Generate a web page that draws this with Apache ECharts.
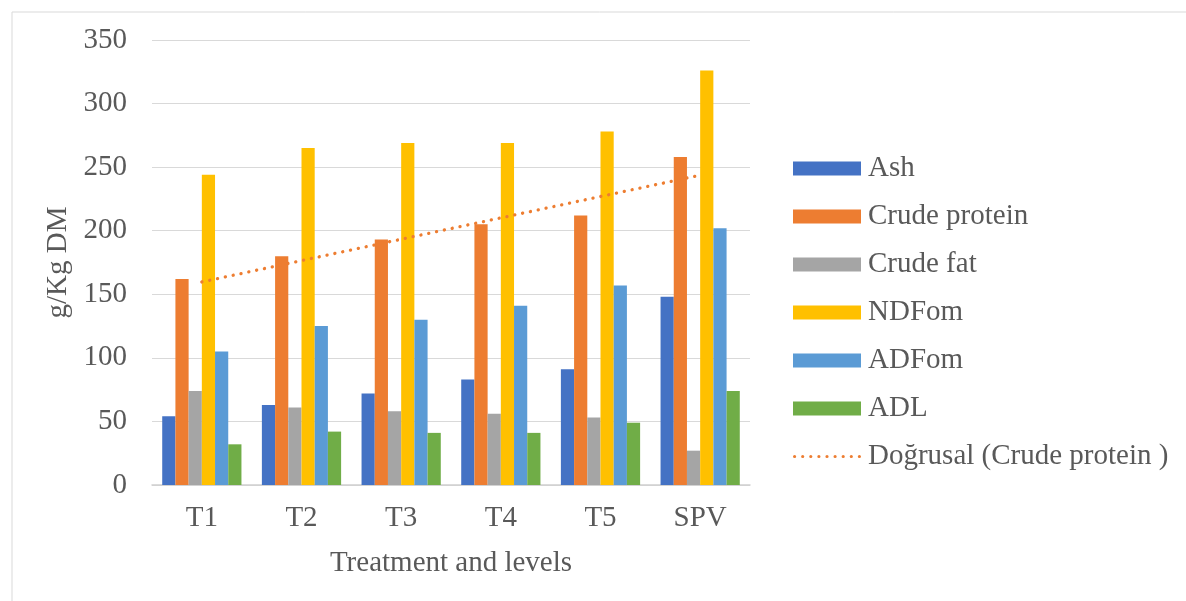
<!DOCTYPE html>
<html>
<head>
<meta charset="utf-8">
<script src="https://cdn.jsdelivr.net/npm/echarts@6/dist/echarts.min.js"></script>
<style>
html,body{margin:0;padding:0;background:#fff;}
#chart{width:1186px;height:601px;}
</style>
</head>
<body>
<div id="chart"></div>
<script>
const categories = ['T1', 'T2', 'T3', 'T4', 'T5', 'SPV'];
const ash = [54, 63, 72, 83, 91, 148];
const crudeProtein = [162, 180, 193, 205, 212, 258];
const crudeFat = [74, 61, 58, 56, 53, 27];
const ndfom = [244, 265, 269, 269, 278, 326];
const adfom = [105, 125, 130, 141, 157, 202];
const adl = [32, 42, 41, 41, 49, 74];
const trendCrudeProtein = [159.7, 176.5, 193.3, 210.1, 226.9, 243.7];
const yTicks = [0, 50, 100, 150, 200, 250, 300, 350];

const FONT = '"Liberation Serif", "Times New Roman", serif';
const TXT = '#595959';

// dotted-line legend icon (9 round dots)
let dotPath = 'path://';
for (let i = 0; i < 9; i++) {
  const cx = 1.6 + i * 8.1;
  dotPath += 'M' + (cx - 1.6) + ' 1.6a1.6 1.6 0 1 0 3.2 0a1.6 1.6 0 1 0 -3.2 0z';
}

function bar(name, data, color) {
  return {
    name: name, type: 'bar', data: data,
    barGap: '0%', barCategoryGap: '20.5%',
    itemStyle: { color: color },
    emphasis: { disabled: true }
  };
}

const chart = echarts.init(document.getElementById('chart'), null, { renderer: 'canvas' });
chart.setOption({
  animation: false,
  backgroundColor: '#fff',
  graphic: [{
    type: 'rect', left: 9.5, top: 9.5, silent: true,
    shape: { x: 0, y: 0, width: 1190, height: 600 },
    style: { fill: 'none', stroke: '#d9d9d9', lineWidth: 1 }
  }],
  grid: { left: 152, right: 436, top: 40, bottom: 116, containLabel: false },
  legend: {
    orient: 'vertical', left: 793, top: 154, padding: 0,
    itemWidth: 68, itemHeight: 14, itemGap: 19,
    symbolKeepAspect: true,
    textStyle: { fontFamily: FONT, fontSize: 29, color: TXT, padding: [0, 0, 0, 2] },
    data: [
      { name: 'Ash', icon: 'rect' },
      { name: 'Crude protein', icon: 'rect' },
      { name: 'Crude fat', icon: 'rect' },
      { name: 'NDFom', icon: 'rect' },
      { name: 'ADFom', icon: 'rect' },
      { name: 'ADL', icon: 'rect' },
      { name: 'Doğrusal (Crude protein )', icon: dotPath }
    ]
  },
  xAxis: {
    type: 'category', data: categories,
    axisLine: { show: true, lineStyle: { color: '#d0d0d0', width: 1.5 } },
    axisTick: { show: false },
    axisLabel: { fontFamily: FONT, fontSize: 29, color: TXT, margin: 19 },
    name: 'Treatment and levels', nameLocation: 'middle', nameGap: 64,
    nameTextStyle: { fontFamily: FONT, fontSize: 29, color: TXT }
  },
  yAxis: {
    type: 'value', min: yTicks[0], max: yTicks[yTicks.length - 1], interval: 50,
    axisLine: { show: false }, axisTick: { show: false },
    splitLine: { lineStyle: { color: '#d9d9d9', width: 1 } },
    axisLabel: { fontFamily: FONT, fontSize: 29, color: TXT, margin: 25 },
    name: 'g/Kg DM', nameLocation: 'middle', nameGap: 76, nameRotate: 90,
    nameTextStyle: { fontFamily: FONT, fontSize: 29, color: TXT }
  },
  series: [
    bar('Ash', ash, '#4472C4'),
    bar('Crude protein', crudeProtein, '#ED7D31'),
    bar('Crude fat', crudeFat, '#A5A5A5'),
    bar('NDFom', ndfom, '#FFC000'),
    bar('ADFom', adfom, '#5B9BD5'),
    bar('ADL', adl, '#70AD47'),
    {
      name: 'Doğrusal (Crude protein )', type: 'line', data: trendCrudeProtein,
      symbol: 'none', smooth: false, z: 5,
      lineStyle: { color: '#ED7D31', width: 3.3, type: [0.1, 7.9], cap: 'round' },
      itemStyle: { color: '#ED7D31' },
      emphasis: { disabled: true }
    }
  ]
});
</script>
</body>
</html>
